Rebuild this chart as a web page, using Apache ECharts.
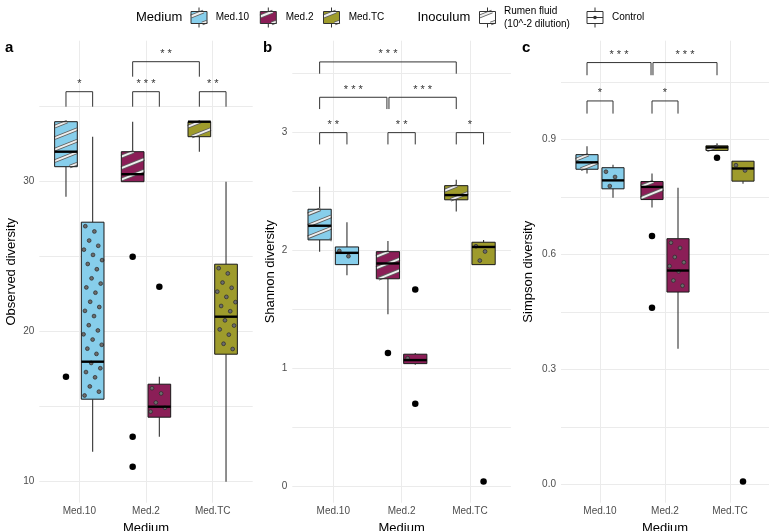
<!DOCTYPE html>
<html>
<head>
<meta charset="utf-8">
<script src="https://cdn.jsdelivr.net/npm/echarts@6/dist/echarts.min.js"></script>
<style>
  html, body { margin: 0; padding: 0; background: #fff; }
  #chart { width: 776px; height: 531px; }
</style>
</head>
<body>
<div id="chart"></div>
<script>
// categories and colours
var categories = ['Med.10', 'Med.2', 'Med.TC'];
var mediumColors = ['#87CEEB', '#8B1E57', '#9E9B2C'];

// box stats per medium: [min, q1, median, q3, max]
var observedRumen = [[29, 31, 32, 34, 34], [30, 30, 30.5, 32, 34], [32, 33, 34, 34, 34]];
var observedControl = [[12, 15.5, 18, 27.3, 33], [13, 14.3, 15, 16.5, 17], [10, 18.5, 21, 24.5, 30]];
var shannonRumen = [[1.99, 2.09, 2.21, 2.35, 2.54], [1.46, 1.76, 1.89, 1.99, 2.08], [2.33, 2.43, 2.47, 2.55, 2.60]];
var shannonControl = [[1.79, 1.88, 1.98, 2.03, 2.24], [1.03, 1.04, 1.07, 1.12, 1.13], [1.88, 1.88, 2.03, 2.07, 2.09]];
var simpsonRumen = [[0.811, 0.822, 0.840, 0.860, 0.882], [0.722, 0.743, 0.776, 0.790, 0.811], [0.871, 0.871, 0.879, 0.883, 0.890]];
var simpsonControl = [[0.748, 0.771, 0.793, 0.826, 0.834], [0.354, 0.502, 0.558, 0.641, 0.774], [0.784, 0.791, 0.824, 0.843, 0.843]];

// outliers: [medium index, inoculum index (0 = rumen fluid, 1 = control), value]
var observedOutliers = [[0, 0, 17], [1, 0, 25], [1, 0, 13], [1, 0, 11], [1, 1, 23]];
var shannonOutliers = [[1, 0, 1.13], [1, 1, 1.67], [1, 1, 0.70], [2, 1, 0.04]];
var simpsonOutliers = [[1, 0, 0.648], [1, 0, 0.461], [2, 0, 0.852], [2, 1, 0.008]];

// significance brackets: [x start, x end, bracket top, leg end, label]
var observedSig = [[0.8, 1.2, 36, 35, '*'], [1.8, 2.2, 36, 35, '* * *'], [2.8, 3.2, 36, 35, '* *'], [1.8, 2.8, 38, 37, '* *']];
var shannonSig = [[0.8, 1.2, 3.0, 2.9, '* *'], [1.8, 2.2, 3.0, 2.9, '* *'], [2.8, 3.2, 3.0, 2.9, '*'],
  [0.8, 1.785, 3.3, 3.2, '* * *'], [1.815, 2.8, 3.3, 3.2, '* * *'], [0.8, 2.8, 3.6, 3.5, '* * *']];
var simpsonSig = [[0.8, 1.2, 1.0, 0.967, '*'], [1.8, 2.2, 1.0, 0.967, '*'],
  [0.8, 1.785, 1.10, 1.067, '* * *'], [1.815, 2.8, 1.10, 1.067, '* * *']];

// tick labels and grid lines
var observedTicks = [10, 20, 30];
var observedLines = [10, 15, 20, 25, 30, 35];
var shannonTicks = [0, 1, 2, 3];
var shannonLines = [0, 0.5, 1, 1.5, 2, 2.5, 3, 3.5];
var simpsonTicks = [0, 0.3, 0.6, 0.9];
var simpsonLines = [0, 0.15, 0.3, 0.45, 0.6, 0.75, 0.9, 1.05];

var BOX_W = 0.34, DODGE = 0.2;
var FONT = '"Liberation Sans", Arial, sans-serif';

var panels = [
  { rumen: observedRumen, control: observedControl, outliers: observedOutliers, sig: observedSig,
    ticks: observedTicks, lines: observedLines, min: 8.6, max: 39.4, name: 'Observed diversity',
    gap: 21, left: 39.3, width: 213.4, letter: 'a', letterX: 5, fmt: null },
  { rumen: shannonRumen, control: shannonControl, outliers: shannonOutliers, sig: shannonSig,
    ticks: shannonTicks, lines: shannonLines, min: -0.14, max: 3.78, name: 'Shannon diversity',
    gap: 15.5, left: 292.3, width: 218.6, letter: 'b', letterX: 263, fmt: null },
  { rumen: simpsonRumen, control: simpsonControl, outliers: simpsonOutliers, sig: simpsonSig,
    ticks: simpsonTicks, lines: simpsonLines, min: -0.047, max: 1.157, name: 'Simpson diversity',
    gap: 26.5, left: 561, width: 208, letter: 'c', letterX: 522, fmt: function (v) { return v.toFixed(1); } }
];

// hatch stripes clipped to a rect
function stripes(r) {
  var els = [], s = 0.4, step = 11.5;
  for (var c = r.y + 5; c < r.y + r.height + s * r.width; c += step) {
    var xs = Math.max(r.x, r.x + (c - r.y - r.height) / s);
    var xe = Math.min(r.x + r.width, r.x + (c - r.y) / s);
    if (xe - xs < 1) continue;
    var shape = { x1: xs, y1: c - s * (xs - r.x), x2: xe, y2: c - s * (xe - r.x) };
    els.push({ type: 'line', shape: shape, style: { stroke: '#5e5e5e', lineWidth: 3.6 } });
    els.push({ type: 'line', shape: shape, style: { stroke: '#eeeeee', lineWidth: 1.9 } });
  }
  return els;
}

// dot pattern clipped to a rect
function dots(r) {
  var els = [], d = 10.5, a = Math.PI / 6, ca = Math.cos(a), sa = Math.sin(a);
  for (var i = -40; i <= 40; i++) {
    for (var j = -40; j <= 40; j++) {
      var px = r.x + 4 + i * d * ca - j * d * sa;
      var py = r.y + 4 + i * d * sa + j * d * ca;
      if (px > r.x + 1.8 && px < r.x + r.width - 1.8 && py > r.y + 1.8 && py < r.y + r.height - 1.8) {
        els.push({ type: 'circle', shape: { cx: px, cy: py, r: 1.9 },
          style: { fill: '#6c6c6c', stroke: '#2a2a2a', lineWidth: 0.7 } });
      }
    }
  }
  return els;
}

function boxData(rumen, control) {
  var out = [];
  for (var i = 0; i < categories.length; i++) {
    out.push([i + 1 - DODGE].concat(rumen[i], [i, 0]));
    out.push([i + 1 + DODGE].concat(control[i], [i, 1]));
  }
  return out;
}

function renderBox(params, api) {
  var x = api.value(0);
  var pMin = api.coord([x, api.value(1)]);
  var pQ1 = api.coord([x, api.value(2)]);
  var pMed = api.coord([x, api.value(3)]);
  var pQ3 = api.coord([x, api.value(4)]);
  var pMax = api.coord([x, api.value(5)]);
  var w = api.size([BOX_W, 0])[0];
  var cx = pMin[0];
  var r = { x: cx - w / 2, y: pQ3[1], width: w, height: Math.max(pQ1[1] - pQ3[1], 1) };
  var fill = mediumColors[api.value(6)];
  var kids = [
    { type: 'line', shape: { x1: cx, y1: pMax[1], x2: cx, y2: pQ3[1] }, style: { stroke: '#333', lineWidth: 1.1 } },
    { type: 'line', shape: { x1: cx, y1: pQ1[1], x2: cx, y2: pMin[1] }, style: { stroke: '#333', lineWidth: 1.1 } },
    { type: 'rect', shape: r, style: { fill: fill } }
  ];
  kids = kids.concat(api.value(7) === 0 ? stripes(r) : dots(r));
  kids.push({ type: 'rect', shape: r, style: { fill: null, stroke: '#1a1a1a', lineWidth: 1 } });
  kids.push({ type: 'line', shape: { x1: r.x, y1: pMed[1], x2: r.x + w, y2: pMed[1] }, style: { stroke: '#000', lineWidth: 2.4 } });
  return { type: 'group', children: kids };
}

function makeBracketRenderer(sig) {
  return function (params, api) {
    var item = sig[params.dataIndex];
    var a = api.coord([api.value(0), api.value(3)]);
    var b = api.coord([api.value(0), api.value(2)]);
    var c = api.coord([api.value(1), api.value(2)]);
    var d = api.coord([api.value(1), api.value(3)]);
    return { type: 'group', children: [
      { type: 'polyline', shape: { points: [a, b, c, d] }, style: { stroke: '#333', lineWidth: 1, fill: null } },
      { type: 'text', style: { x: (b[0] + c[0]) / 2, y: b[1] - 2, text: item[4], fill: '#333',
        fontSize: 11, fontFamily: FONT, align: 'center', verticalAlign: 'bottom' } }
    ] };
  };
}

var grids = [], xAxes = [], yAxes = [], series = [], graphics = [];

panels.forEach(function (p, gi) {
  grids.push({ left: p.left, top: 40.7, width: p.width, height: 462, containLabel: false, outerBoundsMode: 'none' });
  xAxes.push({
    type: 'value', gridIndex: gi, min: 0.4, max: 3.6,
    name: 'Medium', nameLocation: 'middle', nameGap: 17,
    nameTextStyle: { color: '#000', fontSize: 13, fontFamily: FONT },
    axisLine: { show: false },
    axisTick: { show: false, customValues: [1, 2, 3] },
    axisLabel: { customValues: [1, 2, 3], color: '#4d4d4d', fontSize: 10, fontFamily: FONT, margin: 4,
      formatter: function (v) { return categories[Math.round(v) - 1]; } },
    splitLine: { show: true, lineStyle: { color: '#ebebeb', width: 1 } }
  });
  yAxes.push({
    type: 'value', gridIndex: gi, min: p.min, max: p.max,
    name: p.name, nameLocation: 'middle', nameGap: p.gap,
    nameTextStyle: { color: '#000', fontSize: 13, fontFamily: FONT },
    axisLine: { show: false },
    axisTick: { show: false, customValues: p.lines },
    axisLabel: { customValues: p.ticks, color: '#4d4d4d', fontSize: 10, fontFamily: FONT, margin: 5,
      formatter: p.fmt || function (v) { return String(v); } },
    splitLine: { show: true, lineStyle: { color: '#ebebeb', width: 1 } }
  });
  series.push({
    type: 'custom', xAxisIndex: gi, yAxisIndex: gi,
    data: boxData(p.rumen, p.control),
    encode: { x: 0, y: [1, 2, 3, 4, 5] },
    renderItem: renderBox, silent: true, z: 2
  });
  series.push({
    type: 'scatter', xAxisIndex: gi, yAxisIndex: gi,
    data: p.outliers.map(function (o) { return [o[0] + 1 + (o[1] === 0 ? -DODGE : DODGE), o[2]]; }),
    symbolSize: 6.5, itemStyle: { color: '#000', opacity: 1 }, silent: true, z: 3
  });
  series.push({
    type: 'custom', xAxisIndex: gi, yAxisIndex: gi,
    data: p.sig.map(function (s) { return [s[0], s[1], s[2], s[3]]; }),
    encode: { x: [0, 1], y: [2, 3] },
    renderItem: makeBracketRenderer(p.sig), silent: true, z: 4
  });
  graphics.push({ type: 'text', left: p.letterX, top: 40,
    style: { text: p.letter, fill: '#000', fontSize: 15, fontWeight: 'bold', fontFamily: FONT } });
});

// legend
function legendKey(cx, fill, kind) {
  var r = { x: cx - 8, y: 11.5, width: 16, height: 12 };
  var kids = [
    { type: 'line', shape: { x1: cx, y1: 7.5, x2: cx, y2: 11.5 }, style: { stroke: '#333', lineWidth: 1 } },
    { type: 'line', shape: { x1: cx, y1: 23.5, x2: cx, y2: 27.5 }, style: { stroke: '#333', lineWidth: 1 } },
    { type: 'rect', shape: r, style: { fill: fill } }
  ];
  if (kind === 'stripe') kids = kids.concat(stripes(r));
  kids.push({ type: 'rect', shape: r, style: { fill: null, stroke: '#333', lineWidth: 1 } });
  if (kind === 'dot') {
    kids.push({ type: 'line', shape: { x1: r.x, y1: 17.5, x2: r.x + 16, y2: 17.5 }, style: { stroke: '#333', lineWidth: 1 } });
    kids.push({ type: 'circle', shape: { cx: cx, cy: 17.5, r: 1.8 }, style: { fill: '#333' } });
  }
  return { type: 'group', children: kids };
}
function legendText(x, y, text, size) {
  return { type: 'text', x: x, y: y,
    style: { text: text, fill: '#000', fontSize: size, fontFamily: FONT, verticalAlign: 'middle' } };
}
graphics.push(legendText(136, 17.5, 'Medium', 13));
var keyX = [199, 268.3, 331.5];
var labelX = [215.7, 285.7, 348.7];
categories.forEach(function (c, i) {
  graphics.push(legendKey(keyX[i], mediumColors[i], 'stripe'));
  graphics.push(legendText(labelX[i], 17.5, c, 10));
});
graphics.push(legendText(417.5, 17.5, 'Inoculum', 13));
graphics.push(legendKey(487.5, '#fff', 'stripe'));
graphics.push(legendText(504, 11, 'Rumen fluid', 10));
graphics.push(legendText(504, 24, '(10^-2 dilution)', 10));
graphics.push(legendKey(595, '#fff', 'dot'));
graphics.push(legendText(612, 17.5, 'Control', 10));

var myChart = echarts.init(document.getElementById('chart'));
myChart.setOption({
  animation: false,
  backgroundColor: '#fff',
  grid: grids,
  xAxis: xAxes,
  yAxis: yAxes,
  series: series,
  graphic: graphics
});
</script>
</body>
</html>
